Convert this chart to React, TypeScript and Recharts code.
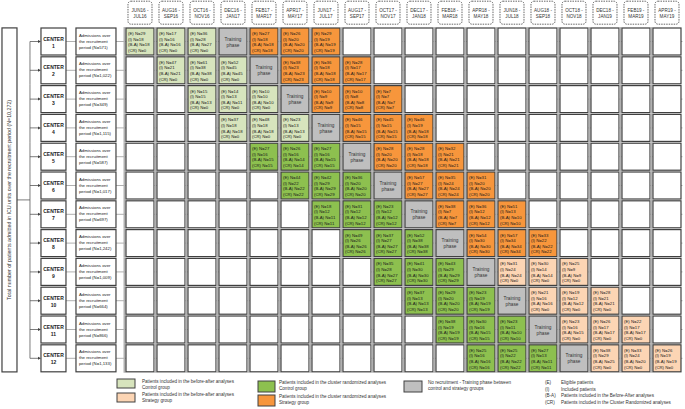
import { ScatterChart, Scatter, XAxis, YAxis } from 'recharts'

const PERIODS = [
  'JUN16 - JUL16', 'AUG16 - SEP16', 'OCT16 - NOV16', 'DEC16 - JAN17', 'FEB17 - MAR17', 'APR17 - MAY17',
  'JUN17 - JUL17', 'AUG17 - SEP17', 'OCT17 - NOV17', 'DEC17 - JAN18', 'FEB18 - MAR18', 'APR18 - MAY18',
  'JUN18 - JUL18', 'AUG18 - SEP18', 'OCT18 - NOV18', 'DEC18 - JAN19', 'FEB19 - MAR19', 'APR19 - MAY19',
]

const CENTERS = ['1', '2', '3', '4', '5', '6', '7', '8', '9', '10', '11', '12']
const ADMISSIONS = ['571', '1,022', '349', '1,115', '587', '1,017', '697', '1,242', '1,009', '664', '866', '1,133']
const TOTAL = '10,272'

// first period of the control phase for each center (then 3 control, training, 3 strategy)
const FIRST_PERIOD = [0, 1, 2, 3, 4, 5, 6, 7, 8, 9, 10, 11]

// 6 recruitment periods per center: control x3, strategy x3
const ELIGIBLE = [
  [29, 17, 36, 27, 26, 29],
  [47, 61, 52, 38, 36, 28],
  [15, 14, 10, 10, 10, 7],
  [37, 48, 23, 46, 45, 46],
  [27, 26, 27, 28, 28, 32],
  [44, 42, 36, 57, 35, 31],
  [18, 31, 23, 38, 36, 51],
  [49, 37, 52, 54, 57, 33],
  [35, 41, 43, 31, 30, 25],
  [37, 29, 23, 21, 19, 28],
  [38, 30, 23, 23, 26, 22],
  [25, 25, 27, 38, 33, 26],
]
const INCLUDED = [
  [18, 16, 28, 18, 20, 19],
  [21, 38, 45, 23, 18, 17],
  [15, 13, 10, 9, 8, 7],
  [18, 18, 13, 15, 15, 19],
  [16, 16, 16, 20, 18, 21],
  [22, 29, 20, 27, 24, 20],
  [12, 12, 12, 7, 12, 13],
  [26, 27, 38, 30, 34, 22],
  [28, 30, 29, 24, 14, 9],
  [13, 20, 19, 16, 12, 21],
  [19, 16, 11, 16, 17, 17],
  [16, 22, 13, 29, 24, 19],
]
const BEFORE_AFTER = [
  [18, 16, 27, 18, 20, 19],
  [21, 38, 45, 23, 18, 17],
  [13, 11, 10, 9, 8, 7],
  [18, 18, 13, 15, 15, 18],
  [15, 14, 15, 20, 18, 21],
  [22, 29, 20, 27, 24, 20],
  [11, 12, 12, 7, 12, 10],
  [26, 27, 38, 30, 34, 22],
  [27, 30, 29, 24, 14, 9],
  [13, 20, 19, 16, 12, 21],
  [19, 15, 10, 15, 17, 17],
  [16, 22, 11, 25, 20, 19],
]
const CLUSTER_RAND = [
  [0, 0, 0, 18, 20, 19],
  [0, 0, 0, 23, 18, 17],
  [0, 0, 0, 9, 8, 7],
  [0, 0, 0, 15, 15, 18],
  [15, 14, 15, 20, 18, 21],
  [22, 29, 20, 27, 24, 20],
  [11, 12, 12, 7, 12, 10],
  [26, 27, 38, 30, 34, 22],
  [27, 30, 29, 0, 0, 0],
  [13, 20, 19, 0, 0, 0],
  [19, 15, 10, 0, 0, 0],
  [16, 22, 11, 0, 0, 0],
]

const ABBREVIATIONS = [
  ['(E)', 'Eligible patients'],
  ['(I)', 'Included patients'],
  ['(B-A)', 'Patients included in the Before-After analyses'],
  ['(CR)', 'Patients included in the Cluster Randomized analyses'],
]

const FILL: Record<string, string> = {
  empty: '#ffffff',
  baControl: '#d7e4bd',
  crControl: '#8dc04f',
  training: '#bfbfbf',
  crStrategy: '#f7963c',
  baStrategy: '#fcd5b4',
}

const FONT = "'Liberation Sans', Arial, sans-serif"
const W = 685
const H = 409
// axis domains chosen so one unit = one period column / one center row
const X_DOMAIN = [-4.516, 17.581]
const Y_DOMAIN = [-1.441, 12.76]
const ADM_X = -1.42
const BOX_X = -4.21
const HEADER_Y = -1

type Cell = { x: number; y: number; kind: string; lines: string[] }

const cells: Cell[] = []
CENTERS.forEach((_, r) => {
  PERIODS.forEach((_, c) => {
    const k = c - FIRST_PERIOD[r]
    if (k < 0 || k > 6) {
      cells.push({ x: c, y: r, kind: 'empty', lines: [] })
    } else if (k === 3) {
      cells.push({ x: c, y: r, kind: 'training', lines: ['Training', 'phase'] })
    } else {
      const j = k < 3 ? k : k - 1
      const cr = CLUSTER_RAND[r][j]
      const kind = k < 3 ? (cr > 0 ? 'crControl' : 'baControl') : cr > 0 ? 'crStrategy' : 'baStrategy'
      cells.push({
        x: c,
        y: r,
        kind,
        lines: [
          `(E)  N=${ELIGIBLE[r][j]}`,
          `(I)  N=${INCLUDED[r][j]}`,
          `(B-A) N=${BEFORE_AFTER[r][j]}`,
          `(CR)  N=${cr}`,
        ],
      })
    }
  })
})

const headers = PERIODS.map((p, c) => ({ x: c, y: HEADER_Y, label: p }))
const rows = CENTERS.map((name, r) => ({ x: ADM_X, y: r, name, adm: ADMISSIONS[r], last: r === CENTERS.length - 1, first: r === 0 }))
const bigBox = [{ x: BOX_X, y: (CENTERS.length - 1) / 2 }]

function CellShape(props: any) {
  const { cx, cy, payload } = props
  const training = payload.kind === 'training'
  return (
    <g>
      <line x1={cx - 15.5} x2={cx - 15.5} y1={cy - 14.4} y2={cy + 14.4} stroke="#b0b0b0" strokeWidth={2} />
      <line x1={cx - 15.5} x2={cx + 15.5} y1={cy} y2={cy} stroke="#b0b0b0" strokeWidth={1} />
      <rect x={cx - 14} y={cy - 13.5} width={28} height={27} fill={FILL[payload.kind]} stroke="#404040" strokeWidth={1.2} />
      {training
        ? payload.lines.map((t: string, i: number) => (
            <text key={i} x={cx} y={cy - 1 + i * 6} textAnchor="middle" fontSize={4.7} fontFamily={FONT} fill="#333">
              {t}
            </text>
          ))
        : payload.lines.map((t: string, i: number) => (
            <text key={i} x={cx - 12} y={cy - 6.5 + i * 5.6} fontSize={4.3} fontFamily={FONT} fill="#1a1a1a">
              {t}
            </text>
          ))}
    </g>
  )
}

function HeaderShape(props: any) {
  const { cx, cy, payload } = props
  const [a, b] = payload.label.split(' - ')
  return (
    <g>
      <rect x={cx - 12} y={cy - 11.5} width={24} height={23} rx={3} fill="#fff" stroke="#404040" strokeWidth={0.8} strokeDasharray="1.5 1" />
      <text x={cx} y={cy - 1} textAnchor="middle" fontSize={4.6} fontFamily={FONT} fill="#333">{`${a} -`}</text>
      <text x={cx} y={cy + 5.5} textAnchor="middle" fontSize={4.6} fontFamily={FONT} fill="#333">{b}</text>
    </g>
  )
}

function RowShape(props: any) {
  const { cx, cy, payload } = props
  const treeX = cx - 66
  return (
    <g>
      <line x1={treeX} x2={treeX} y1={payload.first ? cy : cy - 14.4} y2={payload.last ? cy : cy + 14.4} stroke="#595959" strokeWidth={0.8} />
      <line x1={treeX} x2={cx - 57} y1={cy} y2={cy} stroke="#595959" strokeWidth={0.8} />
      <path d={`M${cx - 58},${cy - 1.5} L${cx - 55},${cy} L${cx - 58},${cy + 1.5} Z`} fill="#404040" />
      <line x1={cx - 30} x2={cx - 20} y1={cy} y2={cy} stroke="#b0b0b0" strokeWidth={1} />
      <line x1={cx + 20} x2={cx + 30} y1={cy} y2={cy} stroke="#b0b0b0" strokeWidth={1} />
      <rect x={cx - 55} y={cy - 13.5} width={25} height={27} fill="#fff" stroke="#404040" strokeWidth={1.2} />
      <text x={cx - 42.5} y={cy - 1} textAnchor="middle" fontSize={5} fontWeight="bold" fontFamily={FONT} fill="#222">CENTER</text>
      <text x={cx - 42.5} y={cy + 6} textAnchor="middle" fontSize={5} fontWeight="bold" fontFamily={FONT} fill="#222">{payload.name}</text>
      <rect x={cx - 20} y={cy - 13.5} width={40} height={27} fill="#fff" stroke="#404040" strokeWidth={1.2} />
      {['Admissions over', 'the recruitment', `period  (N=${payload.adm})`].map((t, i) => (
        <text key={i} x={cx - 17} y={cy - 5 + i * 6} fontSize={4.3} fontFamily={FONT} fill="#222">{t}</text>
      ))}
    </g>
  )
}

function BigBoxShape(props: any) {
  const { cx, cy } = props
  return (
    <g>
      <line x1={cx + 7.5} x2={cx + 20.5} y1={cy} y2={cy} stroke="#595959" strokeWidth={0.8} />
      <rect x={cx - 7.5} y={cy - 172} width={15} height={344} fill="#fff" stroke="#404040" strokeWidth={1.2} />
      <text
        x={cx + 2}
        y={cy}
        textAnchor="middle"
        fontSize={5.3}
        fontFamily={FONT}
        fill="#333"
        transform={`rotate(-90 ${cx + 2} ${cy})`}
      >
        {`Total number of patients admitted in ICU units over the recruitment period  (N=${TOTAL})`}
      </text>
    </g>
  )
}

function KeyBox() {
  const t = (x: number, y: number, s: string) => (
    <text x={x} y={y} fontSize={4.6} fontFamily={FONT} fill="#333">{s}</text>
  )
  const sw = (x: number, y: number, w: number, h: number, fill: string) => (
    <rect x={x} y={y} width={w} height={h} fill={fill} stroke="#404040" strokeWidth={1} />
  )
  return (
    <svg width={W} height={36} style={{ position: 'absolute', left: 0, top: 375 }}>
      {sw(117, 4, 18, 9, FILL.baControl)}
      {t(142, 8, 'Patients included in the before-after analyses')}
      {t(142, 14, 'Control group')}
      {sw(117, 18, 18, 9, FILL.baStrategy)}
      {t(142, 21, 'Patients included in the before-after analyses')}
      {t(142, 27, 'Strategy group')}
      {sw(258, 6, 17, 11, FILL.crControl)}
      {t(279, 9, 'Patients included in the cluster randomized analyses')}
      {t(279, 15, 'Control group')}
      {sw(258, 20, 17, 11, FILL.crStrategy)}
      {t(279, 23, 'Patients included in the cluster randomized analyses')}
      {t(279, 29, 'Strategy group')}
      {sw(404, 6, 18, 11, FILL.training)}
      {t(428, 9, 'No recruitment - Training phase between')}
      {t(428, 15, 'control and strategy groups')}
      {ABBREVIATIONS.map(([k, v], i) => (
        <g key={k}>
          {t(545, 9 + i * 6.5, k)}
          {t(561, 9 + i * 6.5, v)}
        </g>
      ))}
    </svg>
  )
}

export default function App() {
  return (
    <div style={{ position: 'absolute', left: 0, top: 0, width: W, height: H, background: '#fff' }}>
      <ScatterChart width={W} height={H} margin={{ top: 0, right: 0, bottom: 0, left: 0 }}>
        <XAxis type="number" dataKey="x" domain={X_DOMAIN} allowDataOverflow hide />
        <YAxis type="number" dataKey="y" domain={Y_DOMAIN} allowDataOverflow reversed hide />
        <Scatter data={bigBox} shape={BigBoxShape} isAnimationActive={false} />
        <Scatter data={headers} shape={HeaderShape} isAnimationActive={false} />
        <Scatter data={rows} shape={RowShape} isAnimationActive={false} />
        <Scatter data={cells} shape={CellShape} isAnimationActive={false} />
      </ScatterChart>
      <KeyBox />
    </div>
  )
}
